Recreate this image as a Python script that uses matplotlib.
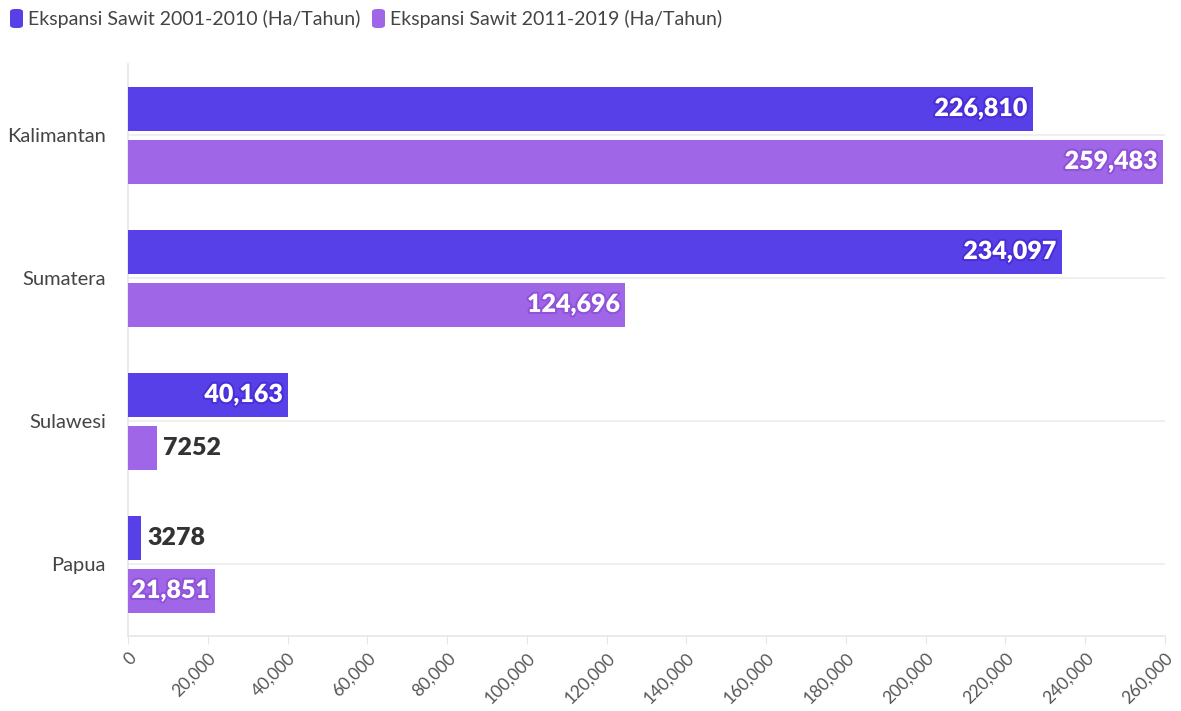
import matplotlib
matplotlib.use("Agg")
import matplotlib.pyplot as plt
import matplotlib.patheffects as pe
from matplotlib.patches import FancyBboxPatch
import numpy as np

categories = ["Kalimantan", "Sumatera", "Sulawesi", "Papua"]
series_names = ["Ekspansi Sawit 2001-2010 (Ha/Tahun)", "Ekspansi Sawit 2011-2019 (Ha/Tahun)"]
values_2001_2010 = [226810, 234097, 40163, 3278]
values_2011_2019 = [259483, 124696, 7252, 21851]
label_2001_2010 = ["226,810", "234,097", "40,163", "3278"]
label_2011_2019 = ["259,483", "124,696", "7252", "21,851"]
xticks = list(range(0, 260001, 20000))

colors = ["#5840e9", "#a066e8"]
dark_colors = ["#4a2fd8", "#8f52d8"]

plt.rcParams['font.family'] = ['Lato', 'DejaVu Sans']

fig = plt.figure(figsize=(11.81, 7.11), dpi=100)
ax = fig.add_axes([0.1084, 0.1055, 0.878, 0.8045])

y = np.arange(len(categories))
h = 0.305
off = 0.185
series = [(values_2001_2010, label_2001_2010), (values_2011_2019, label_2011_2019)]
for i, (vals, labs) in enumerate(series):
    ypos = y + (-off if i == 0 else off)
    ax.barh(ypos, vals, height=h, color=colors[i], zorder=3)
    for yy, v, lab in zip(ypos, vals, labs):
        if v > 15000:
            ax.text(v - 1300, yy, lab, ha='right', va='center', color='white',
                    fontsize=18, fontweight='heavy', zorder=5,
                    path_effects=[pe.withStroke(linewidth=3, foreground=dark_colors[i])])
        else:
            ax.text(v + 1500, yy, lab, ha='left', va='center', color='#333333',
                    fontsize=18, fontweight='heavy', zorder=5)

ax.set_xlim(0, 260000)
ax.set_ylim(len(categories) - 0.5, -0.5)
ax.set_yticks(y)
ax.set_yticklabels(categories, fontsize=14.5, color='#444444')
ax.set_xticks(xticks)
ax.set_xticklabels([f"{t:,}" for t in xticks], rotation=45, ha='right',
                   rotation_mode='anchor', fontsize=12.5, color='#555555')
ax.tick_params(axis='y', length=0, pad=16)
ax.tick_params(axis='x', length=6, color='#e6e6e6', pad=4)
ax.grid(axis='y', color='#ececec', linewidth=1.2, zorder=0)
for s in ['top', 'right']:
    ax.spines[s].set_visible(False)
ax.spines['left'].set_color('#e6e6e6')
ax.spines['bottom'].set_color('#e6e6e6')
ax.spines['left'].set_linewidth(1.2)
ax.spines['bottom'].set_linewidth(1.2)

# legend
lx = [10, 372]
for i, name in enumerate(series_names):
    x0 = lx[i] / 1181
    fig.patches.append(FancyBboxPatch((x0, 1 - 28 / 711), 13 / 1181, 19 / 711,
                                      boxstyle="round,pad=0,rounding_size=0.004",
                                      transform=fig.transFigure, facecolor=colors[i],
                                      edgecolor='none'))
    fig.text(x0 + 18 / 1181, 1 - 18.5 / 711, name, fontsize=14, color='#444444',
             va='center', ha='left')

fig.savefig("out.png", dpi=100)
